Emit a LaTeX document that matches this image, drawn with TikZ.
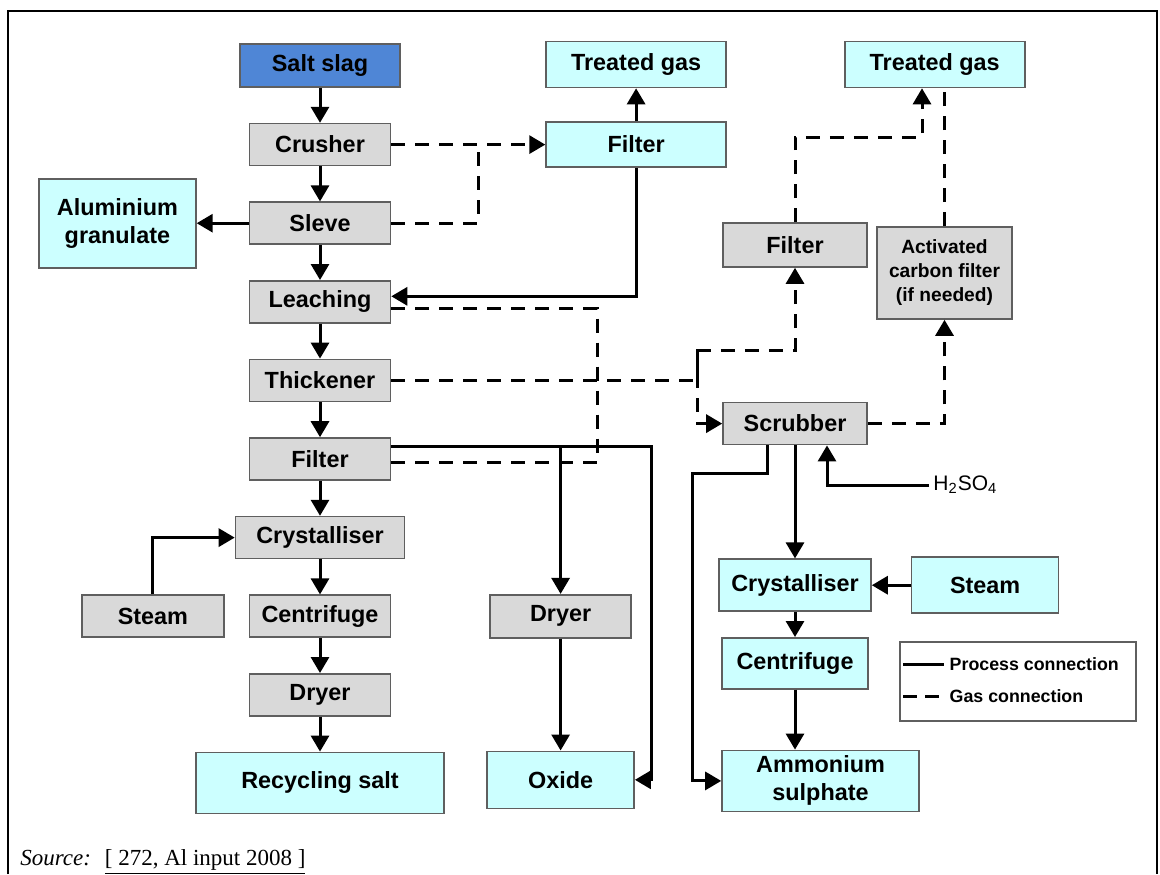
\documentclass[tikz,border=0pt]{standalone}
\usepackage{fontspec}
\setmainfont{Liberation Sans}
\newfontfamily\srcfont{Liberation Serif}
\usepackage{xcolor}
\definecolor{slagblue}{HTML}{4F86D6}
\definecolor{unitgray}{HTML}{D9D9D9}
\definecolor{prodcyan}{HTML}{CCFFFF}
\definecolor{boxline}{HTML}{5F5F5F}
\usepackage{tikz}
\usetikzlibrary{arrows.meta,positioning}

\begin{document}
\begin{tikzpicture}[
  x=0.5pt, y=-0.5pt,
  unit/.style={draw=boxline, line width=0.8pt, fill=unitgray, minimum height=21pt,
               minimum width=70.5pt, inner sep=1pt, align=center,
               font=\fontsize{11.7}{14}\selectfont\bfseries},
  prod/.style={unit, fill=prodcyan},
  feed/.style={unit, fill=slagblue},
  pipe/.style={line width=1.5pt},
  flow/.style={pipe, -{Triangle[length=8pt,width=9pt]}},
  gasline/.style={pipe, dash pattern=on 7pt off 5pt},
  gas/.style={flow, dash pattern=on 7pt off 5pt},
  legfont/.style={font=\fontsize{8.9}{10}\selectfont\bfseries},
  node distance=17.5pt
]
  \useasboundingbox (0,0) rectangle (1160,874);
  \draw[line width=1pt] (8,874) -- (8,11) -- (1157,11) -- (1157,874);

  % salt line
  \node[feed, minimum width=80pt, minimum height=21.5pt] (slag) at (320,65.5) {Salt slag};
  \node[unit, below=of slag] (crusher) {Crusher};
  \node[unit, below=of crusher] (sleve) {Sleve};
  \node[unit, below=of sleve] (leach) {Leaching};
  \node[unit, below=of leach] (thick) {Thickener};
  \node[unit, below=of thick] (filtA) {Filter};
  \node[unit, below=of filtA, minimum width=84.5pt] (crystA) {Crystalliser};
  \node[unit, below=of crystA] (centA) {Centrifuge};
  \node[unit, below=of centA] (dryA) {Dryer};
  \node[prod, below=of dryA, minimum width=124pt, minimum height=30.5pt] (salt) {Recycling salt};
  \node[prod, left=26pt of sleve, minimum width=78.5pt, minimum height=44.5pt] (alu) {Aluminium\\granulate};
  \node[unit, left=12pt of centA, minimum width=71pt] (steamA) {Steam};

  % gas side
  \node[prod, right=77pt of crusher, minimum width=90pt, minimum height=22.5pt] (filtB) {Filter};
  \node[prod, above=16.5pt of filtB, minimum width=90pt, minimum height=23pt] (gasA) {Treated gas};
  \node[prod, right=58.5pt of gasA, minimum width=90pt, minimum height=23pt] (gasB) {Treated gas};
  \node[unit, minimum width=72pt, minimum height=22pt] (filtC) at (795,245) {Filter};
  \node[unit, minimum width=67.5pt, minimum height=46pt,
        font=\fontsize{9.6}{12}\selectfont\bfseries] (carbon) at (944.5,273) {Activated\\carbon filter\\(if needed)};
  \node[unit, below=67pt of filtC, minimum width=72pt] (scrub) {Scrubber};
  \node[anchor=west, font=\fontsize{10.5}{12}\selectfont, inner sep=2pt] (acid) at (929,485) {H\textsubscript{2}SO\textsubscript{4}};

  % ammonium sulphate line
  \node[prod, below=56.5pt of scrub, minimum width=76pt, minimum height=26pt] (crystB) {Crystalliser};
  \node[prod, right=19.5pt of crystB, minimum width=73.5pt, minimum height=28pt] (steamB) {Steam};
  \node[prod, below=12.5pt of crystB, minimum width=73pt, minimum height=25.5pt] (centB) {Centrifuge};
  \node[prod, below=30pt of centB.south west, anchor=north west,
        minimum width=98.5pt, minimum height=30.5pt] (ammon) {Ammonium\\sulphate};

  % oxide line
  \node[unit, right=49pt of centA, minimum height=21.5pt] (dryB) {Dryer};
  \node[prod, below=56pt of dryB, minimum width=73.5pt, minimum height=28.5pt] (oxide) {Oxide};

  % legend
  \node[draw=boxline, line width=0.8pt, fill=white, minimum width=118pt,
        minimum height=39.5pt] (legend) at (1018,681.5) {};
  \draw[pipe] ([xshift=2pt,yshift=-11.5pt]legend.north west) -- ++(20.5pt,0)
    node[right, legfont, inner sep=2pt] {Process connection};
  \draw[pipe, dash pattern=on 7pt off 4pt] ([xshift=2pt,yshift=-27.5pt]legend.north west) -- ++(20.5pt,0)
    node[right, legfont, inner sep=2pt] {Gas connection};

  \node[anchor=west, inner sep=0pt, font=\srcfont\fontsize{11.5}{13}\selectfont] (src) at (20,862)
    {\textit{Source:}\hspace{0.6em}\underline{[ 272, Al input 2008 ]}};

  \coordinate (j1) at (478,142);
  \coordinate (c1) at (597,380);
  \coordinate (c2) at (697,350);
  \coordinate (c3) at (651,600);
  \coordinate (c4) at (692,473);
  \coordinate (c5) at (922,137);
  \coordinate (fa) at ([yshift=6.25pt]filtA.east);

  \draw[flow] (slag) -- (crusher);
  \draw[flow] (crusher) -- (sleve);
  \draw[flow] (sleve) -- (leach);
  \draw[flow] (leach) -- (thick);
  \draw[flow] (thick) -- (filtA);
  \draw[flow] (filtA) -- (crystA);
  \draw[flow] (crystA) -- (centA);
  \draw[flow] (centA) -- (dryA);
  \draw[flow] (dryA) -- (salt);
  \draw[flow] (sleve) -- (alu);
  \draw[flow] (steamA.north) |- (crystA.west);

  \draw[gas] (crusher) -- (filtB);
  \draw[gasline] (sleve.east) -| (j1);
  \draw[flow] (filtB) -- (gasA);
  \draw[flow] (filtB.south) |- ([yshift=2.75pt]leach.east);
  \draw[gasline] ([yshift=-3.25pt]leach.east) -| (c1) |- ([yshift=-1.75pt]filtA.east);
  \draw[gas] (thick.east) -| (c2) -| (filtC.south);
  \draw[gas] (c2) |- (scrub.west);
  \draw[gas] (filtC.north) |- (c5) -- (c5 |- gasB.south);
  \draw[gasline] (carbon.north) -- (carbon.north |- gasB.south);
  \draw[gas] (scrub.east) -| (carbon.south);

  \draw[flow] (fa) -| (c3) |- (oxide.east);
  \draw[flow] (fa -| dryB.north) -- (dryB.north);
  \draw[flow] (dryB.south) -- (dryB.south |- oxide.north);

  \draw[flow] ([xshift=-14pt]scrub.south) |- (c4) |- (ammon.west);
  \draw[flow] (scrub.south) -- (scrub.south |- crystB.north);
  \draw[flow] (acid.west) -| ([xshift=16pt]scrub.south);
  \draw[flow] (steamB) -- (crystB);
  \draw[flow] (crystB) -- (centB);
  \draw[flow] (centB.south) -- (centB.south |- ammon.north);
\end{tikzpicture}
\end{document}
